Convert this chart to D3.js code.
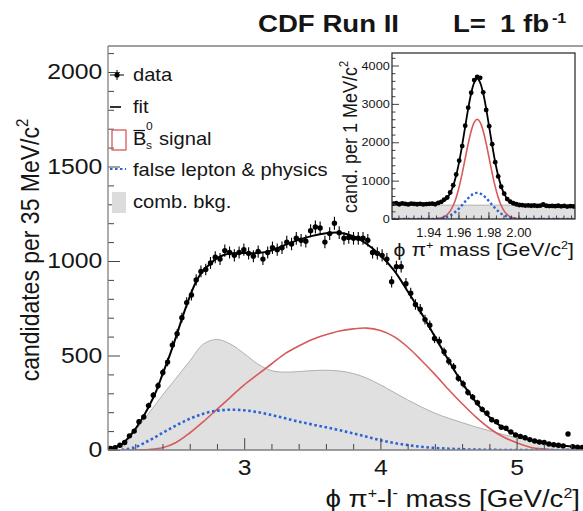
<!DOCTYPE html>
<html><head><meta charset="utf-8">
<script src="https://cdn.jsdelivr.net/npm/d3@7"></script>
<style>html,body{margin:0;padding:0;background:#fff;} svg{display:block;}</style>
</head><body><svg id="c" width="583" height="511"></svg>
<script>
// ---------------- main plot data ----------------
const binStart = 2.0, binWidth = 0.035;
const dataCounts = [8,12,25,40,75,100,150,175,235,290,
  340,410,465,555,615,700,780,820,900,945,
  955,990,1020,1010,1055,1045,1030,1045,1060,1040,
  1025,1050,1010,1045,1070,1060,1070,1100,1090,1120,
  1110,1105,1160,1180,1175,1100,1145,1200,1150,1120,
  1125,1120,1120,1120,1110,1045,1040,1030,1010,890,
  970,970,880,830,770,745,690,660,590,575,
  520,470,440,380,350,305,280,250,215,195,
  160,150,120,115,95,80,72,65,55,48,
  42,40,32,28,25,22,85,18,15,14];
const fitMass = [2.0,2.05,2.1,2.15,2.2,2.25,2.3,2.35,2.4,2.45,2.5,2.55,2.6,2.65,2.7,2.75,2.8,2.85,2.9,3.0,3.1,3.2,3.3,3.4,3.5,3.6,3.7,3.8,3.9,4.0,4.1,4.2,4.3,4.4,4.5,4.6,4.7,4.8,4.9,5.0,5.1,5.2,5.3,5.4,5.5];
const fitValues = [10,15,30,65,110,165,230,305,400,495,600,710,810,895,950,985,1015,1032,1040,1042,1042,1055,1085,1112,1133,1147,1150,1132,1090,1030,950,840,725,600,475,355,255,175,118,80,55,38,26,18,12];
const compMass = [2.1,2.2,2.3,2.4,2.5,2.6,2.7,2.8,2.9,3.0,3.1,3.2,3.3,3.4,3.5,3.6,3.7,3.8,3.9,4.0,4.1,4.2,4.3,4.4,4.5,4.6,4.7,4.8,4.9,5.0,5.1,5.2,5.3,5.4,5.5];
const signalValues = [0,0,3,12,40,90,150,215,280,345,400,455,510,550,585,610,630,641,645,632,600,545,475,400,320,245,175,115,70,38,15,5,0,0,0];
const falseLeptonValues = [0,15,50,90,130,165,192,208,213,210,200,185,168,150,135,120,105,88,70,52,37,26,17,11,7,4,2,1,0,0,0,0,0,0,0];
const combBkgValues = [8,100,195,290,380,470,560,585,560,510,455,420,412,415,420,422,418,405,380,345,305,265,228,195,168,145,122,102,82,65,47,30,15,5,0];
const xTicks = [3,4,5], xTickLabels = ["3","4","5"];
const yTicks = [0,500,1000,1500,2000], yTickLabels = ["0","500","1000","1500","2000"];

// ---------------- inset data (2 MeV steps) ----------------
const insetStart = 1.9165, insetStep = 0.002;
const insetData = [400,410,385,405,395,380,400,392,385,395,380,390,395,
  400,385,420,445,505,560,690,880,1160,1520,1900,2430,2900,3290,3620,
  3700,
  3680,3300,2840,2420,1950,1480,1110,840,660,520,455,410,385,365,360,
  350,355,345,352,340,348,380,345,338,342,335,345,330,340,325,335,330];
const insetFit = [395,394,393,392,391,390,389,388,387,386,385,384,383,
  387,391,403,428,472,549,673,866,1139,1497,1930,2407,2878,3278,3552,
  3665,
  3550,3275,2872,2399,1920,1485,1125,850,655,529,450,404,377,363,357,
  351,350,349,348,347,346,345,344,343,342,341,340,339,338,337,336,335];
const insetSignal = [0,0,0,0,0,0,0,0,0,0,0,0,0,
  2,5,13,29,60,114,205,351,562,845,1191,1578,1963,2293,2520,
  2600,
  2520,2293,1963,1578,1191,845,562,351,205,114,60,29,13,5,2,
  0,0,0,0,0,0,0,0,0,0,0,0,0,0,0,0,0];
const insetFalse = [0,0,0,0,0,0,0,0,0,0,0,0,0,
  3,5,10,20,34,58,92,140,203,279,367,458,545,616,664,
  680,
  664,616,545,458,367,279,203,140,92,58,34,20,10,5,3,
  0,0,0,0,0,0,0,0,0,0,0,0,0,0,0,0,0];
const insetBkgMass = [1.9157, 2.0377], insetBkg = [360, 360];
const insetXTicks = [1.94,1.96,1.98,2.00], insetXTickLabels = ["1.94","1.96","1.98","2.00"];
const insetYTicks = [0,1000,2000,3000,4000], insetYTickLabels = ["0","1000","2000","3000","4000"];

const legendLabels = ["data","fit","signal","false lepton & physics","comb. bkg."];

// ---------------- drawing ----------------
const FONT = '"Liberation Sans", Arial, Helvetica, sans-serif';
const SX = 1.15;
const TXT = "#151515";
const RED = "#d65a5a", BLUE = "#2e63d6", GRAYF = "#e0e0e0", GRAYS = "#b0b0b0";
const svg = d3.select("#c").attr("font-family", FONT);
const smooth = d3.curveCatmullRom.alpha(0.5);

function txt(parent, x, y, size, anchor, opts = {}) {
  const sx = opts.sx || SX;
  const tr = opts.rotate ? `translate(${x},${y}) rotate(-90) scale(1,${sx})` : `translate(${x},${y}) scale(${sx},1)`;
  const t = parent.append("text").attr("transform", tr).attr("font-size", size)
    .attr("text-anchor", anchor).attr("fill", TXT);
  if (opts.bold) t.attr("font-weight", "bold");
  return t;
}

const x = d3.scaleLinear().domain([2.0, 5.5]).range([108, 584.7]);
const y = d3.scaleLinear().domain([0, 2000]).range([450, 72]);

const defs = svg.append("defs");
defs.append("clipPath").attr("id", "clipMain").append("rect")
  .attr("x", 108).attr("y", 46).attr("width", 477).attr("height", 404);

const comp = compMass.map((m, i) => ({m, s: signalValues[i], f: falseLeptonValues[i], b: combBkgValues[i]}));
const fitPts = fitMass.map((m, i) => ({m, v: fitValues[i]}));
const dataPts = dataCounts.map((v, i) => ({m: binStart + (i + 0.5) * binWidth, v}));

const plot = svg.append("g").attr("clip-path", "url(#clipMain)");
plot.append("path").datum(comp)
  .attr("d", d3.area().x(d => x(d.m)).y0(y(0)).y1(d => y(d.b)).curve(smooth))
  .attr("fill", GRAYF);
plot.append("path").datum(comp)
  .attr("d", d3.line().x(d => x(d.m)).y(d => y(d.b)).curve(smooth))
  .attr("fill", "none").attr("stroke", GRAYS).attr("stroke-width", 1);
plot.append("path").datum(comp)
  .attr("d", d3.line().x(d => x(d.m)).y(d => y(d.s)).curve(smooth))
  .attr("fill", "none").attr("stroke", RED).attr("stroke-width", 1.6);
plot.append("path").datum(comp)
  .attr("d", d3.line().x(d => x(d.m)).y(d => y(d.f)).curve(smooth))
  .attr("fill", "none").attr("stroke", BLUE).attr("stroke-width", 2.6).attr("stroke-dasharray", "2.6,2.6");
plot.append("path").datum(fitPts)
  .attr("d", d3.line().x(d => x(d.m)).y(d => y(d.v)).curve(smooth))
  .attr("fill", "none").attr("stroke", "#000").attr("stroke-width", 2);
plot.append("g").selectAll("line").data(dataPts).join("line")
  .attr("x1", d => x(d.m)).attr("x2", d => x(d.m))
  .attr("y1", d => y(d.v + Math.sqrt(d.v))).attr("y2", d => y(Math.max(0, d.v - Math.sqrt(d.v))))
  .attr("stroke", "#000").attr("stroke-width", 1.1);
plot.append("g").selectAll("circle").data(dataPts).join("circle")
  .attr("cx", d => x(d.m)).attr("cy", d => y(d.v)).attr("r", 2.7).attr("fill", "#000");

// axes (inward ticks)
function styleAxis(g, size) {
  g.attr("font-family", FONT).attr("font-size", size);
  g.select(".domain").remove();
  g.selectAll(".tick line").attr("stroke", "#444").attr("stroke-width", 1);
  g.selectAll(".tick text").attr("fill", TXT);
}
const yAx = svg.append("g").attr("transform", "translate(108,0)")
  .call(d3.axisLeft(y).tickValues(yTicks).tickFormat((d, i) => yTickLabels[i]).tickSize(-12).tickSizeOuter(0).tickPadding(5));
styleAxis(yAx, 21.5);
yAx.selectAll(".tick text").attr("transform", `scale(${SX},1)`);
const yMin = svg.append("g").attr("transform", "translate(108,0)")
  .call(d3.axisLeft(y).tickValues(d3.range(0, 2101, 100).filter(v => v % 500 !== 0)).tickFormat("").tickSize(-6).tickSizeOuter(0));
styleAxis(yMin, 10);

const xAx = svg.append("g").attr("transform", "translate(0,450)")
  .call(d3.axisBottom(x).tickValues(xTicks).tickFormat((d, i) => xTickLabels[i]).tickSize(-12).tickSizeOuter(0).tickPadding(10));
styleAxis(xAx, 21.5);
xAx.selectAll(".tick text").attr("transform", `scale(${SX},1)`);
const xMin = svg.append("g").attr("transform", "translate(0,450)")
  .call(d3.axisBottom(x).tickValues(d3.range(2.2, 5.5, 0.2).filter(v => Math.abs(v - Math.round(v)) > 0.01)).tickFormat("").tickSize(-6).tickSizeOuter(0));
styleAxis(xMin, 10);

// frame
const frame = svg.append("g").attr("stroke", "#808080").attr("stroke-width", 1.3);
frame.append("line").attr("x1", 108).attr("x2", 108).attr("y1", 46).attr("y2", 450);
frame.append("line").attr("x1", 108).attr("x2", 583).attr("y1", 46).attr("y2", 46);
frame.append("line").attr("x1", 108).attr("x2", 583).attr("y1", 450).attr("y2", 450);

// title
txt(svg, 258, 32, 24, "start", {bold: true}).text("CDF Run II");
txt(svg, 453, 32, 24, "start", {bold: true}).text("L=");
txt(svg, 500, 32, 24, "start", {bold: true}).text("1 fb");
txt(svg, 552, 23, 14, "start", {bold: true}).text("-1");

// axis titles
const yl = txt(svg, 39, 250, 23, "middle", {rotate: true});
yl.append("tspan").text("candidates per 35 MeV/c");
yl.append("tspan").attr("dy", -10).attr("font-size", 15).text("2");

const xl = txt(svg, 580, 507, 24, "end");
xl.append("tspan").text("ϕ π");
xl.append("tspan").attr("dy", -9).attr("font-size", 14).text("+");
xl.append("tspan").attr("dy", 9).text("-l");
xl.append("tspan").attr("dy", -9).attr("font-size", 14).text("-");
xl.append("tspan").attr("dy", 9).text(" mass [GeV/c");
xl.append("tspan").attr("dy", -9).attr("font-size", 14).text("2");
xl.append("tspan").attr("dy", 9).text("]");

// legend
const lg = svg.append("g");
const LX = 133, LS = 17.5;
const base = [81, 113, 145, 176, 208];
lg.append("line").attr("x1", 110).attr("x2", 124).attr("y1", 75).attr("y2", 75).attr("stroke", "#000");
lg.append("line").attr("x1", 117).attr("x2", 117).attr("y1", 70).attr("y2", 80).attr("stroke", "#000");
lg.append("circle").attr("cx", 117).attr("cy", 75).attr("r", 2.6).attr("fill", "#000");
txt(lg, LX, base[0], LS, "start").text(legendLabels[0]);
lg.append("line").attr("x1", 110).attr("x2", 121).attr("y1", 107).attr("y2", 107).attr("stroke", "#000").attr("stroke-width", 1.6);
txt(lg, LX, base[1], LS, "start").text(legendLabels[1]);
lg.append("rect").attr("x", 112).attr("y", 130).attr("width", 14).attr("height", 20).attr("fill", "none").attr("stroke", RED).attr("stroke-width", 1.3);
txt(lg, LX, base[2], LS, "start").text("B");
lg.append("line").attr("x1", 133.5).attr("x2", 145).attr("y1", 130.5).attr("y2", 130.5).attr("stroke", TXT).attr("stroke-width", 1.2);
txt(lg, 146, 129.5, 10.5, "start").text("0");
txt(lg, 146, 148.5, 10.5, "start").text("s");
txt(lg, 159, base[2], LS, "start").text(legendLabels[2]);
lg.append("line").attr("x1", 110).attr("x2", 126).attr("y1", 169).attr("y2", 169).attr("stroke", BLUE).attr("stroke-width", 2.2).attr("stroke-dasharray", "2.5,2.5");
txt(lg, LX, base[3], LS, "start").text(legendLabels[3]);
lg.append("rect").attr("x", 112).attr("y", 192).attr("width", 14).attr("height", 21).attr("fill", "#dcdcdc");
txt(lg, LX, base[4], LS, "start").text(legendLabels[4]);

// ---------------- inset ----------------
const ix = d3.scaleLinear().domain([1.9157, 2.0377]).range([392, 575]);
const iy = d3.scaleLinear().domain([0, 4300]).range([219, 54]);
defs.append("clipPath").attr("id", "clipInset").append("rect")
  .attr("x", 392).attr("y", 53).attr("width", 183).attr("height", 166);
svg.append("rect").attr("x", 392).attr("y", 53).attr("width", 183).attr("height", 166).attr("fill", "#fff");
const ip = svg.append("g").attr("clip-path", "url(#clipInset)");
const ipts = insetData.map((v, i) => ({m: insetStart + i * insetStep, d: v, f: insetFit[i], s: insetSignal[i], b: insetFalse[i]}));
const ibkg = insetBkgMass.map((m, i) => ({m, v: insetBkg[i]}));
ip.append("path").datum(ibkg)
  .attr("d", d3.area().x(d => ix(d.m)).y0(iy(0)).y1(d => iy(d.v)))
  .attr("fill", GRAYF).attr("stroke", GRAYS).attr("stroke-width", 1);
ip.append("path").datum(ipts)
  .attr("d", d3.line().x(d => ix(d.m)).y(d => iy(d.s)).curve(smooth))
  .attr("fill", "none").attr("stroke", RED).attr("stroke-width", 1.6);
ip.append("path").datum(ipts)
  .attr("d", d3.line().x(d => ix(d.m)).y(d => iy(d.b)).curve(smooth))
  .attr("fill", "none").attr("stroke", BLUE).attr("stroke-width", 2.4).attr("stroke-dasharray", "2.4,2.4");
ip.append("path").datum(ipts)
  .attr("d", d3.line().x(d => ix(d.m)).y(d => iy(d.f)).curve(smooth))
  .attr("fill", "none").attr("stroke", "#000").attr("stroke-width", 1.8);
ip.append("g").selectAll("circle").data(ipts).join("circle")
  .attr("cx", d => ix(d.m)).attr("cy", d => iy(d.d)).attr("r", 2.4).attr("fill", "#000");

const iyAx = svg.append("g").attr("transform", "translate(392,0)")
  .call(d3.axisLeft(iy).tickValues(insetYTicks).tickFormat((d, i) => insetYTickLabels[i]).tickSize(-7).tickSizeOuter(0).tickPadding(2));
styleAxis(iyAx, 11);
iyAx.selectAll(".tick text").attr("transform", `scale(${SX},1)`);
const iyMin = svg.append("g").attr("transform", "translate(392,0)")
  .call(d3.axisLeft(iy).tickValues(d3.range(200, 4300, 200).filter(v => v % 1000 !== 0)).tickFormat("").tickSize(-3.5).tickSizeOuter(0));
styleAxis(iyMin, 10);
const ixAx = svg.append("g").attr("transform", "translate(0,219)")
  .call(d3.axisBottom(ix).tickValues(insetXTicks).tickFormat((d, i) => insetXTickLabels[i]).tickSize(-7).tickSizeOuter(0).tickPadding(9));
styleAxis(ixAx, 12);
ixAx.selectAll(".tick text").attr("transform", `scale(1.08,1)`);
const ixMin = svg.append("g").attr("transform", "translate(0,219)")
  .call(d3.axisBottom(ix).tickValues(d3.range(1.92, 2.036, 0.005)).tickFormat("").tickSize(-3.5).tickSizeOuter(0));
styleAxis(ixMin, 10);
svg.append("rect").attr("x", 392).attr("y", 53).attr("width", 183).attr("height", 166)
  .attr("fill", "none").attr("stroke", "#222").attr("stroke-width", 1.2);

const iyl = txt(svg, 357, 137, 18, "middle", {rotate: true});
iyl.append("tspan").text("cand. per 1 MeV/c");
iyl.append("tspan").attr("dy", -8).attr("font-size", 11).text("2");
const ixl = txt(svg, 574, 256, 18.5, "end");
ixl.append("tspan").text("ϕ π");
ixl.append("tspan").attr("dy", -7).attr("font-size", 11).text("+");
ixl.append("tspan").attr("dy", 7).text(" mass [GeV/c");
ixl.append("tspan").attr("dy", -7).attr("font-size", 11).text("2");
ixl.append("tspan").attr("dy", 7).text("]");
</script></body></html>
